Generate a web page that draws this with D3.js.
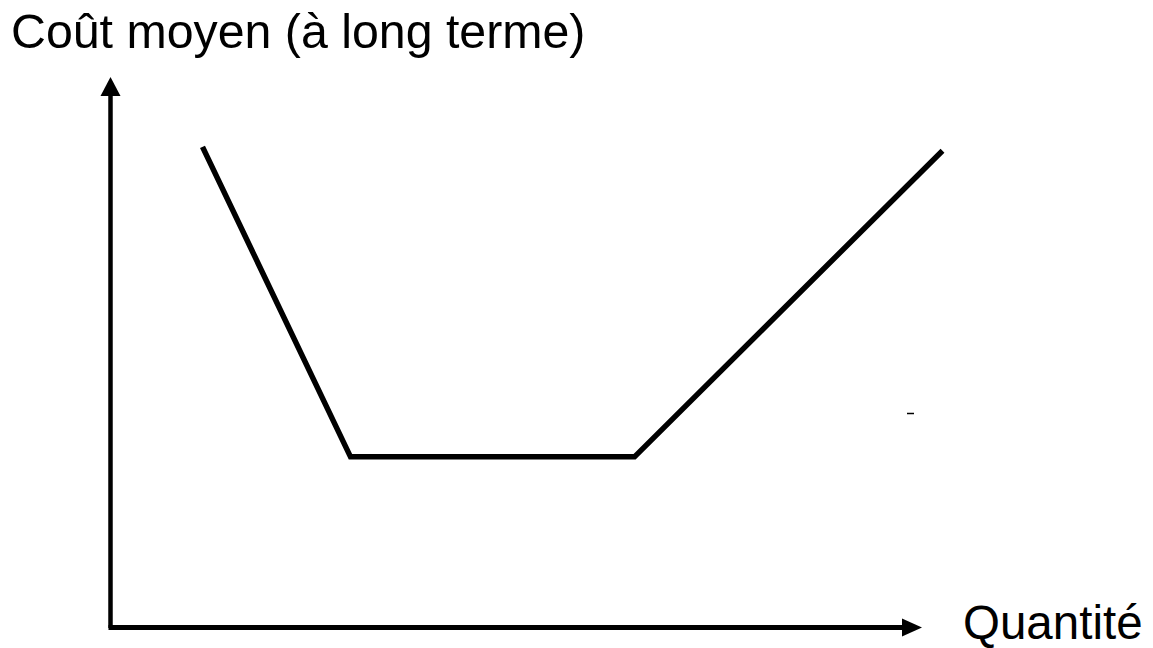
<!DOCTYPE html>
<html>
<head>
<meta charset="utf-8">
<script src="https://cdn.jsdelivr.net/npm/d3@7"></script>
<style>
  body { margin: 0; background: #fff; }
  svg { display: block; }
  text { font-family: "Liberation Sans", Arial, sans-serif; fill: #000; }
</style>
</head>
<body>
<svg width="1153" height="648"></svg>
<script>
// long-run average cost curve (kinked)
const quantity = [11.5, 30, 65.5, 104];
const avgCost = [89, 31.6, 31.6, 88.3];
const yLabel = 'Coût moyen (à long terme)';
const xLabel = 'Quantité';

const svg = d3.select('svg');
const x = d3.scaleLinear().domain([0, 100]).range([110.5, 910.5]);
const y = d3.scaleLinear().domain([0, 100]).range([627.5, 87.5]);

const ox = x(0), oy = y(0);

// y axis + arrow
svg.append('line')
  .attr('x1', ox).attr('x2', ox)
  .attr('y1', oy + 0.5).attr('y2', 95)
  .attr('stroke', '#000').attr('stroke-width', 4.5);
svg.append('path')
  .attr('d', `M${ox},77 L${ox - 10},96 L${ox + 10},96 Z`)
  .attr('fill', '#000');

// x axis + arrow
svg.append('line')
  .attr('x1', ox - 2).attr('x2', 903)
  .attr('y1', oy).attr('y2', oy)
  .attr('stroke', '#000').attr('stroke-width', 5);
svg.append('path')
  .attr('d', `M922,${oy} L902,${oy - 9} L902,${oy + 9} Z`)
  .attr('fill', '#000');

// curve
const line = d3.line().x(d => x(d[0])).y(d => y(d[1]));
svg.append('path')
  .datum(d3.zip(quantity, avgCost))
  .attr('d', line)
  .attr('fill', 'none')
  .attr('stroke', '#000')
  .attr('stroke-width', 5.5)
  .attr('stroke-linejoin', 'miter');

// stray little dash
svg.append('line')
  .attr('x1', 907).attr('x2', 914)
  .attr('y1', 413.5).attr('y2', 413.5)
  .attr('stroke', '#000').attr('stroke-width', 1.5);

// labels
svg.append('text')
  .attr('x', 11).attr('y', 48)
  .attr('font-size', 48.3)
  .text(yLabel);
svg.append('text')
  .attr('x', 963).attr('y', 639)
  .attr('font-size', 47.5)
  .text(xLabel);
</script>
</body>
</html>
